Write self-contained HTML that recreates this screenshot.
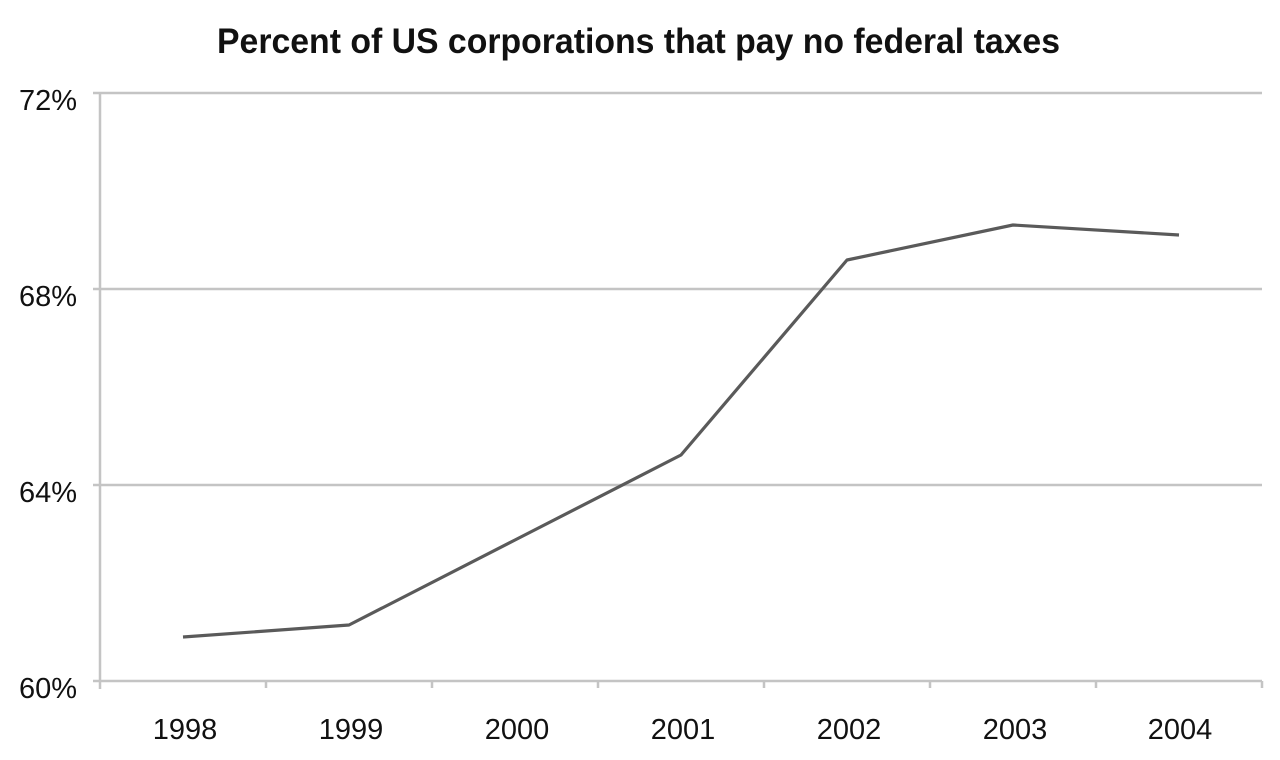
<!DOCTYPE html>
<html>
<head>
<meta charset="utf-8">
<style>
  html, body { margin: 0; padding: 0; background: #ffffff; }
  svg { display: block; }
  text { font-family: "Liberation Sans", Arial, sans-serif; fill: #111; }
</style>
</head>
<body>
<svg width="1280" height="760" viewBox="0 0 1280 760" xmlns="http://www.w3.org/2000/svg">
  <rect x="0" y="0" width="1280" height="760" fill="#ffffff"/>
  <!-- title -->
  <text x="217" y="53" font-size="35" font-weight="bold" textLength="843" lengthAdjust="spacingAndGlyphs">Percent of US corporations that pay no federal taxes</text>

  <!-- gridlines -->
  <g stroke="#c4c4c4" stroke-width="2.5" fill="none">
    <line x1="93" y1="93" x2="1262" y2="93"/>
    <line x1="93" y1="289" x2="1262" y2="289"/>
    <line x1="93" y1="485" x2="1262" y2="485"/>
    <line x1="93" y1="681" x2="1262" y2="681"/>
    <!-- y axis -->
    <line x1="100" y1="92" x2="100" y2="689"/>
    <!-- x ticks -->
    <line x1="266" y1="681" x2="266" y2="688"/>
    <line x1="432" y1="681" x2="432" y2="688"/>
    <line x1="598" y1="681" x2="598" y2="688"/>
    <line x1="764" y1="681" x2="764" y2="688"/>
    <line x1="930" y1="681" x2="930" y2="688"/>
    <line x1="1096" y1="681" x2="1096" y2="688"/>
    <line x1="1262" y1="681" x2="1262" y2="688"/>
  </g>

  <!-- y labels -->
  <g font-size="29" text-anchor="end">
    <text x="77" y="110">72%</text>
    <text x="77" y="306">68%</text>
    <text x="77" y="502">64%</text>
    <text x="77" y="698">60%</text>
  </g>

  <!-- x labels -->
  <g font-size="29" text-anchor="middle">
    <text x="185" y="739">1998</text>
    <text x="351" y="739">1999</text>
    <text x="517" y="739">2000</text>
    <text x="683" y="739">2001</text>
    <text x="849" y="739">2002</text>
    <text x="1015" y="739">2003</text>
    <text x="1180" y="739">2004</text>
  </g>

  <!-- series -->
  <polyline fill="none" stroke="#5a5a5a" stroke-width="3.2" stroke-linejoin="round"
    points="183,637 349,625 515,540 681,455 847,260 1013,225 1179,235"/>
</svg>
</body>
</html>
